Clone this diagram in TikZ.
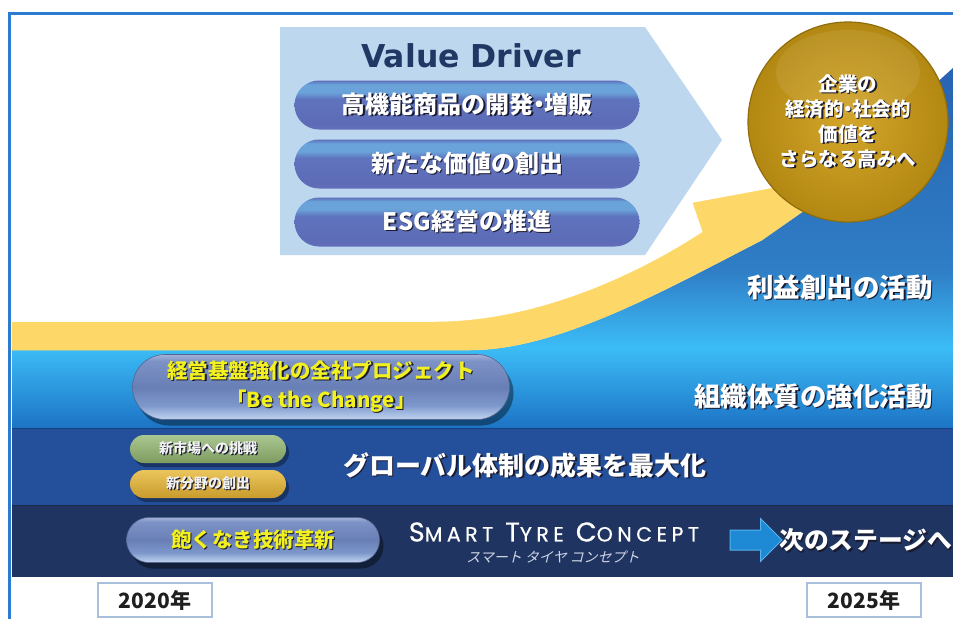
\documentclass[tikz,border=0pt]{standalone}
\usepackage{fontspec}
\setmainfont{Noto Sans CJK JP}
\newfontfamily\stcfont[LetterSpace=22,FakeBold=0.6]{Poppins}
\newfontfamily\vdfont{DejaVu Sans}
\newfontfamily\jpslant[FakeSlant=0.25]{Noto Sans CJK JP}
\usetikzlibrary{shapes.misc,shapes.arrows,shadows}

\definecolor{frameC}{HTML}{2B7BD0}
\definecolor{yellowC}{HTML}{FDD869}
\definecolor{blueA}{HTML}{2862B0}
\definecolor{blueB}{HTML}{2F7EC6}
\definecolor{blueC}{HTML}{3CBDF7}
\definecolor{blueD}{HTML}{1C72C4}
\definecolor{bandTwo}{HTML}{24509B}
\definecolor{bandTwoLine}{HTML}{173F7F}
\definecolor{bandThree}{HTML}{1F3460}
\definecolor{pentC}{HTML}{BDD7EE}
\definecolor{vdTitle}{HTML}{1F3864}
\definecolor{vdT}{HTML}{5D6FBA}
\definecolor{vdL}{HTML}{6AA3DA}
\definecolor{vdM}{HTML}{5F73BD}
\definecolor{vdB}{HTML}{5E6BB7}
\definecolor{vdE}{HTML}{6470BB}
\definecolor{gpT}{HTML}{A4B2D6}
\definecolor{gpU}{HTML}{7D92C6}
\definecolor{gpM}{HTML}{687FB6}
\definecolor{gpL}{HTML}{7D97CB}
\definecolor{gpH}{HTML}{A9BFE4}
\definecolor{gpB}{HTML}{C3D2EE}
\definecolor{goldIn}{HTML}{D3A62A}
\definecolor{goldOut}{HTML}{B38812}
\definecolor{goldEdge}{HTML}{8F6D0C}
\definecolor{greenT}{HTML}{A9C690}
\definecolor{greenB}{HTML}{7E9C60}
\definecolor{sgoldT}{HTML}{EAC55C}
\definecolor{sgoldB}{HTML}{C99B2C}
\definecolor{textYellow}{HTML}{F2F01E}
\definecolor{shadowC}{HTML}{1A1A30}
\definecolor{arrowC}{HTML}{1E8AD6}
\definecolor{arrowE}{HTML}{56B3EC}
\definecolor{yearEdge}{HTML}{A8C0DA}
\definecolor{subC}{HTML}{CFD6E6}

\pgfdeclareverticalshading{vdpill}{100bp}{color(0bp)=(vdE); color(25bp)=(vdE); color(30bp)=(vdB); color(56bp)=(vdM); color(63bp)=(vdL); color(71bp)=(vdL); color(75bp)=(vdT); color(100bp)=(vdT)}
\pgfdeclareverticalshading{glosspill}{100bp}{color(0bp)=(gpB); color(25bp)=(gpB); color(29bp)=(gpH); color(36bp)=(gpL); color(50bp)=(gpM); color(70bp)=(gpU); color(75bp)=(gpT); color(100bp)=(gpT)}

\newcommand\shd[1]{\makebox[0pt][l]{\kern1.3pt\raisebox{-1.3pt}{\color{shadowC}#1}}#1}
\newcommand\bgs[2]{{\fontsize{27}{27}\selectfont #1}{\fontsize{20.5}{20.5}\selectfont #2}}
\newcommand\ndot{\kern-0.28em・\kern-0.28em}

\begin{document}
\begin{tikzpicture}[x=1pt,y=-1pt,
  vdp/.style={rounded rectangle, minimum width=345pt, minimum height=49pt, inner sep=0pt,
    shade, shading=vdpill, text=white, font=\bfseries\fontsize{24}{28}\selectfont},
  gpill/.style={rounded rectangle, inner sep=0pt, shade, shading=glosspill,
    draw=gpM!80!black, line width=0.6pt, text=textYellow,
    drop shadow={shadow xshift=4pt, shadow yshift=-6pt, fill=black, opacity=.4}},
  spill/.style={rounded rectangle, minimum width=156pt, minimum height=28pt, inner sep=0pt,
    text=white!90!gray, font=\bfseries\fontsize{14}{16}\selectfont,
    drop shadow={shadow xshift=3pt, shadow yshift=-4pt, fill=black, opacity=.35}},
  bandtext/.style={text=white, font=\bfseries\fontsize{26.5}{30}\selectfont, inner sep=0pt},
  yearbox/.style={draw=yearEdge, line width=1.5pt, fill=white, minimum width=114pt,
    minimum height=34pt, inner sep=0pt, text=black!88, font=\bfseries\fontsize{21}{24}\selectfont}]
\useasboundingbox (0,0) rectangle (953,619);
\fill[white] (0,0) rectangle (953,619);

% blue area under the swoosh
\begin{scope}
  \clip (12,350) -- (470,350) .. controls (560,350) and (670,287) .. (762,240)
        -- (953,68) -- (953,428) -- (12,428) -- cycle;
  \shade[top color=blueA, bottom color=blueB] (12,60) rectangle (953,272);
  \shade[top color=blueB, bottom color=blueC] (12,271) rectangle (953,348);
  \shade[top color=blueC, bottom color=blueD] (12,347) rectangle (953,429);
\end{scope}

% yellow swoosh arrow
\fill[yellowC, draw=yellowC, line width=0.5pt]
  (12,322) -- (436,322) .. controls (530,322) and (630,280) .. (703,232)
  -- (693,203) -- (790,185) -- (812,205) -- (762,240)
  .. controls (670,287) and (560,350) .. (470,350) -- (12,350) -- cycle;

% Value Driver pentagon
\fill[pentC] (280,27) -- (645,27) -- (722,140) -- (645,255) -- (280,255) -- cycle;
\node[text=vdTitle, font=\vdfont\bfseries\fontsize{31.5}{34}\selectfont] (vdtitle) at (471,56) {Value Driver};
\node[vdp] (vd1) at (467,105) {\shd{高機能商品の開発\ndot 増販}};
\node[vdp] (vd2) at (467,164) {\shd{新たな価値の創出}};
\node[vdp] (vd3) at (467,222) {\shd{ESG経営の推進}};

% gold goal circle
\node[circle, minimum size=200pt, inner sep=0pt, inner color=goldIn, outer color=goldOut,
  draw=goldEdge, line width=1.2pt, text=white, align=center,
  font=\bfseries\fontsize{19.5}{25}\selectfont,
  path picture={\fill[white, opacity=.08] ([yshift=-50pt]path picture bounding box.north)
     ellipse [x radius=72pt, y radius=42pt];}] (goal) at (848,122)
  {\shd{企業の}\\\shd{経済的\ndot 社会的}\\\shd{価値を}\\\shd{さらなる高みへ}};

% lower bands
\fill[bandTwo] (12,428) rectangle (953,505);
\draw[bandTwoLine, line width=1.5pt] (12,428.5) -- (953,428.5);
\fill[bandThree] (12,505) rectangle (953,577);
\draw[bandThree!80!black, line width=1pt] (12,505) -- (953,505);

% frame
\draw[frameC, line width=3pt] (9.5,619) -- (9.5,13) -- (953,13);

% band labels
\node[bandtext, anchor=east] (profit) at (933,288) {\shd{利益創出の活動}};
\node[bandtext, anchor=east] (org) at (933,397) {\shd{組織体質の強化活動}};
\node[bandtext, font=\bfseries\fontsize{26}{30}\selectfont] (global) at (525,466) {\shd{グローバル体制の成果を最大化}};

% left pills
\node[gpill, minimum width=377pt, minimum height=65pt, align=center,
  font=\bfseries\fontsize{20.5}{29}\selectfont] (bechange) at (321,387)
  {\shd{経営基盤強化の全社プロジェクト}\\\shd{「Be the Change」}};
\node[spill, top color=greenT, bottom color=greenB] (newmarket) at (208,449) {\shd{新市場への挑戦}};
\node[spill, top color=sgoldT, bottom color=sgoldB] (newfield) at (208,484) {\shd{新分野の創出}};
\node[gpill, minimum width=253pt, minimum height=45pt,
  font=\bfseries\fontsize{20.5}{24}\selectfont] (tech) at (253,540) {\shd{飽くなき技術革新}};

% Smart Tyre Concept
\node[text=white, inner sep=0pt] (stc) at (554,532)
  {\stcfont\bgs{S}{MART}\hspace{12pt}\bgs{T}{YRE}\hspace{12pt}\bgs{C}{ONCEPT}};
\node[text=subC, inner sep=0pt, font=\jpslant\fontsize{14}{16}\selectfont] (stcjp) at (553,557)
  {スマート タイヤ コンセプト};
\node[single arrow, fill=arrowC, draw=arrowE, line width=1pt, inner xsep=0pt, inner ysep=9.5pt,
  minimum height=52pt, single arrow head extend=11.5pt] (nextarrow) at (751,540) {};
\node[bandtext, anchor=west, font=\bfseries\fontsize{24.8}{30}\selectfont] (nextstage) at (779,541) {\shd{次のステージへ}};

% years
\node[yearbox] (y2020) at (155,600) {2020年};
\node[yearbox] (y2025) at (864,600) {2025年};
\end{tikzpicture}
\end{document}
